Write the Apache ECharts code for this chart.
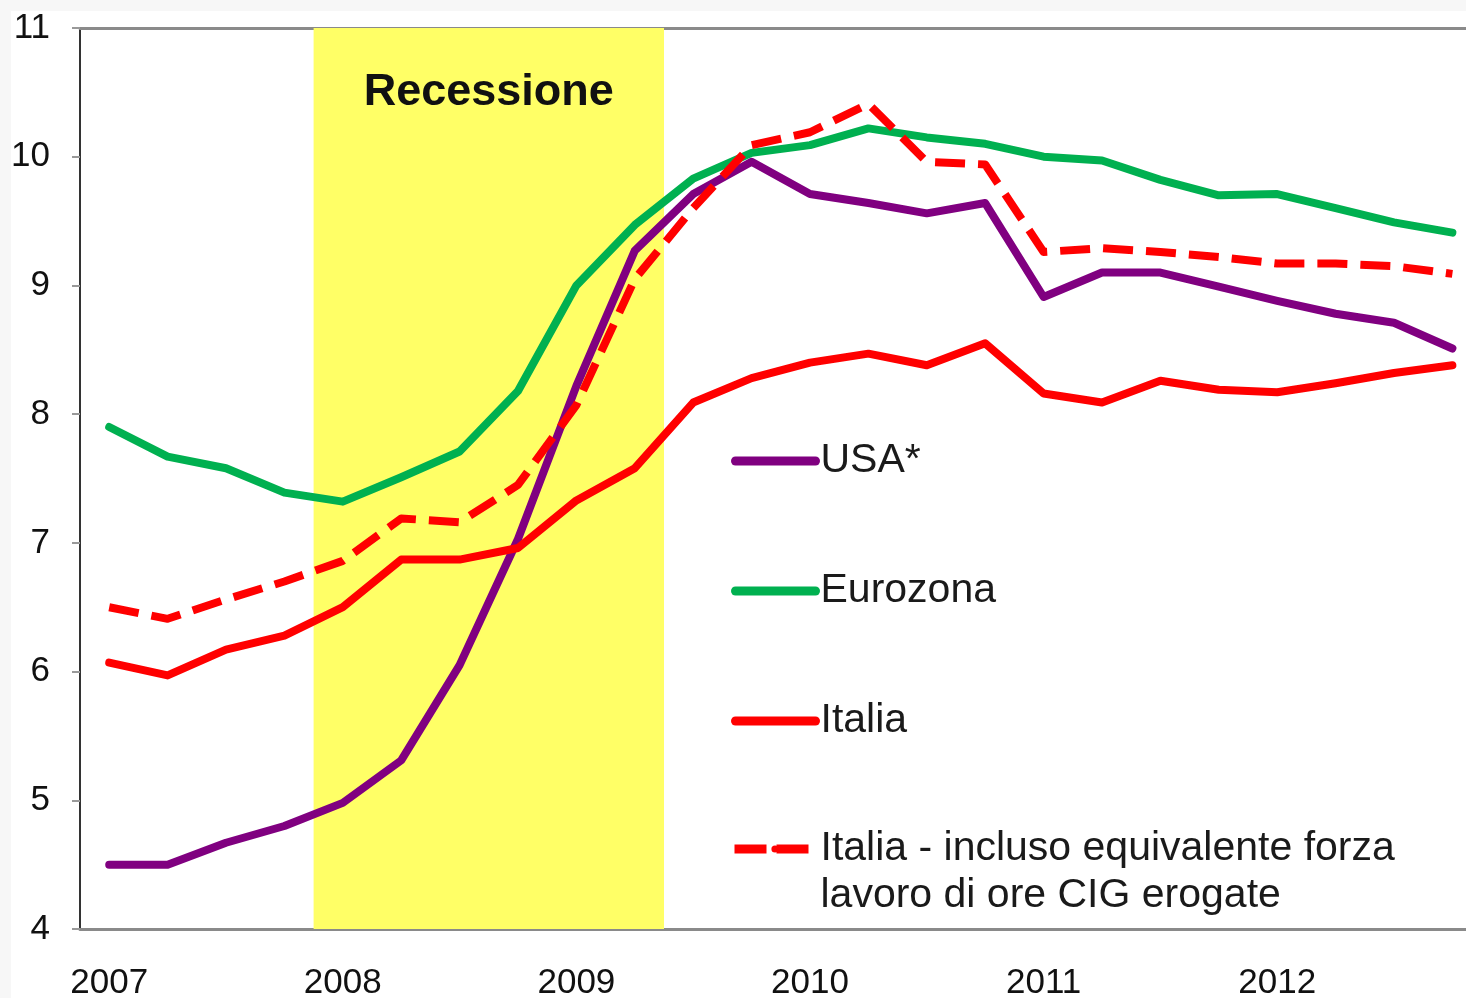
<!DOCTYPE html>
<html>
<head>
<meta charset="utf-8">
<script src="https://cdn.jsdelivr.net/npm/echarts@6/dist/echarts.min.js"></script>
<style>
  html, body { margin: 0; padding: 0; background: #f7f7f7; }
  #main { position: absolute; left: 11px; top: 11px; width: 1455px; height: 987px; background: #fff; }
</style>
</head>
<body>
<div id="main"></div>
<script>
// trimestri 2007-2012
var quarters = []
var years = ['2007', '2008', '2009', '2010', '2011', '2012']
years.forEach(function (y) {
  ['T1', 'T2', 'T3', 'T4'].forEach(function (q) { quarters.push(y + ' ' + q) })
})

// tasso di disoccupazione (%)
var usa = [4.50, 4.50, 4.67, 4.80, 4.98, 5.31, 6.05, 7.03, 8.22, 9.27, 9.71, 9.96,
  9.71, 9.64, 9.56, 9.64, 8.91, 9.10, 9.10, 8.99, 8.88, 8.78, 8.71, 8.51]
var eurozona = [7.90, 7.67, 7.58, 7.39, 7.32, 7.51, 7.71, 8.18, 9.00, 9.47, 9.83, 10.03,
  10.09, 10.22, 10.15, 10.10, 10.00, 9.97, 9.82, 9.70, 9.71, 9.60, 9.49, 9.41]
var italia = [6.07, 5.97, 6.17, 6.28, 6.50, 6.87, 6.87, 6.96, 7.33, 7.58, 8.09, 8.28,
  8.40, 8.47, 8.38, 8.55, 8.16, 8.09, 8.26, 8.19, 8.17, 8.24, 8.32, 8.38]
var italiaCig = [6.50, 6.41, 6.56, 6.70, 6.86, 7.19, 7.16, 7.45, 8.07, 9.05, 9.60, 10.09,
  10.19, 10.41, 9.96, 9.94, 9.26, 9.29, 9.26, 9.22, 9.17, 9.17, 9.15, 9.09]

// recessione: dal 2008 T1 a fine 2009 T2 (in trimestri dall'inizio del 2007)
var recessione = [4, 10]

var nomi = ['USA*', 'Eurozona', 'Italia', 'Italia - incluso equivalente forza\nlavoro di ore CIG erogate']

var font = "'Liberation Sans', Arial, sans-serif"
var viola = '#800080'
var verde = '#00b050'
var rosso = '#ff0000'

var myChart = echarts.init(document.getElementById('main'))

function linea (name, data, color, dashed) {
  return {
    name: name,
    type: 'line',
    data: data,
    z: 3,
    symbol: 'none',
    color: color,
    lineStyle: {
      color: color,
      width: 8,
      type: dashed ? [30, 13] : 'solid',
      cap: dashed ? 'butt' : 'round',
      join: 'round'
    }
  }
}

var option = {
  animation: false,
  grid: {
    left: 69,
    top: 17,
    width: 1401.6,
    height: 901,
    outerBoundsMode: 'none'
  },
  legend: [
    {
      data: nomi.slice(0, 3),
      orient: 'vertical',
      left: 720,
      top: 428,
      padding: 0,
      itemWidth: 80,
      itemHeight: 9,
      itemGap: 86,
      lineStyle: { width: 9, cap: 'round' },
      textStyle: { fontFamily: font, fontSize: 41, lineHeight: 44, color: '#1a1a1a' }
    },
    {
      data: nomi.slice(3),
      orient: 'vertical',
      left: 719,
      top: 767.5,
      padding: 0,
      itemWidth: 81,
      itemHeight: 9,
      lineStyle: { width: 9, cap: 'butt', type: [32, 10] },
      // riga vuota iniziale: la prima riga del testo resta allineata al simbolo
      formatter: function (name) { return '\n' + name },
      textStyle: { fontFamily: font, fontSize: 41, lineHeight: 47, color: '#1a1a1a' }
    }
  ],
  xAxis: [
    {
      type: 'category',
      data: quarters,
      boundaryGap: true,
      axisLine: { lineStyle: { color: '#8a8a8a', width: 3 } },
      axisTick: { interval: 3, length: 9, lineStyle: { color: '#9a9a9a', width: 2 } },
      axisLabel: {
        interval: 3,
        margin: 37,
        fontFamily: font,
        fontSize: 35,
        color: '#111',
        formatter: function (v) { return v.slice(0, 4) }
      },
      splitLine: { show: false }
    },
    {
      type: 'value',
      position: 'top',
      min: 0,
      max: 24,
      axisLine: { show: true, onZero: false, lineStyle: { color: '#8a8a8a', width: 3 } },
      axisTick: { show: false },
      axisLabel: { show: false },
      splitLine: { show: false }
    }
  ],
  yAxis: {
    type: 'value',
    min: 4,
    max: 11,
    interval: 1,
    axisLine: { show: true, lineStyle: { color: '#333', width: 2 } },
    axisTick: { show: true, length: 8, lineStyle: { color: '#999', width: 2 } },
    axisLabel: { margin: 30, fontFamily: font, fontSize: 35, color: '#111' },
    splitLine: { show: false }
  },
  series: [
    {
      name: 'recessione',
      type: 'line',
      xAxisIndex: 1,
      data: [],
      z: 1,
      silent: true,
      markArea: {
        silent: true,
        itemStyle: { color: '#ffff66' },
        label: {
          show: true,
          position: 'insideTop',
          distance: 42,
          fontFamily: font,
          fontSize: 45,
          fontWeight: 'bold',
          color: '#111'
        },
        data: [[{ name: 'Recessione', xAxis: recessione[0] }, { xAxis: recessione[1] }]]
      }
    },
    linea(nomi[0], usa, viola, false),
    linea(nomi[1], eurozona, verde, false),
    linea(nomi[2], italia, rosso, false),
    linea(nomi[3], italiaCig, rosso, true)
  ]
}

myChart.setOption(option)
</script>
</body>
</html>
